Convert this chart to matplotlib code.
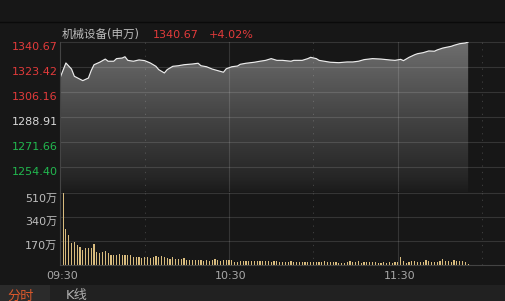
import numpy as np
import matplotlib
matplotlib.use("Agg")
import matplotlib.pyplot as plt
from matplotlib.patches import Polygon, Rectangle
from matplotlib.lines import Line2D
from matplotlib.colors import LinearSegmentedColormap

plt.rcParams['font.family'] = ['DejaVu Sans', 'Noto Sans CJK SC']

# ---------------- data ----------------
title_name = "机械设备(申万)"
last_price = "1340.67"
change_pct = "+4.02%"

price_ticks = [1340.67, 1323.42, 1306.16, 1288.91, 1271.66, 1254.40]
price_tick_labels = ["1340.67", "1323.42", "1306.16", "1288.91", "1271.66", "1254.40"]
price_tick_colors = ["#e23b3b", "#e23b3b", "#e23b3b", "#d8d8d8", "#22b84f", "#22b84f"]
price_low, price_high = 1237.15, 1340.67

vol_ticks = [510, 340, 170]
vol_tick_labels = ["510万", "340万", "170万"]

time_ticks = [0, 60, 120]
time_tick_labels = ["09:30", "10:30", "11:30"]

price_minutes = [0, 2, 4, 5, 8, 10, 11, 12, 14, 16, 17, 19, 20, 22, 23, 24, 26, 28, 30,
                 32, 34, 35, 37, 38, 40, 42, 44, 47, 49, 50, 52, 54, 56, 58, 59, 61, 63,
                 64, 66, 69, 71, 73, 75, 77, 79, 82, 83, 86, 88, 89, 91, 92, 96, 99, 102,
                 104, 106, 108, 111, 114, 117, 119, 121, 122, 124, 126, 127, 129, 131,
                 133, 134, 136, 139, 140, 142, 144, 145]
price_values = [1316.3, 1326.2, 1322.0, 1317.0, 1314.0, 1315.8, 1321.0, 1325.0, 1326.7,
                1328.9, 1327.4, 1327.4, 1329.2, 1329.6, 1330.5, 1328.0, 1327.4, 1328.3,
                1327.8, 1326.2, 1323.9, 1321.6, 1319.3, 1321.6, 1323.9, 1324.3, 1325.0,
                1325.5, 1326.0, 1324.3, 1323.6, 1322.0, 1320.9, 1319.8, 1322.2, 1323.6,
                1324.1, 1325.3, 1326.0, 1326.7, 1327.4, 1328.0, 1329.2, 1328.0, 1328.0,
                1327.4, 1328.0, 1328.0, 1329.2, 1330.1, 1329.2, 1328.0, 1326.7, 1326.4,
                1326.9, 1326.9, 1327.4, 1328.5, 1329.2, 1328.9, 1328.3, 1328.0, 1328.7,
                1327.8, 1330.1, 1331.9, 1332.6, 1333.3, 1334.5, 1334.3, 1335.2, 1336.5,
                1337.7, 1338.4, 1339.5, 1340.0, 1340.67]

volume = [165, 515, 255, 212, 154, 163, 142, 127, 109, 120, 120, 120, 149, 92, 85, 92,
          99, 85, 71, 71, 73, 78, 71, 71, 71, 71, 57, 57, 57, 52, 57, 57, 52, 59, 66, 59,
          64, 57, 50, 42, 57, 42, 42, 42, 50, 33, 35, 35, 35, 35, 35, 28,
          35, 28, 35, 41, 35, 28, 35, 35, 35, 35, 21, 21, 28, 28, 28, 28, 28, 28, 28, 28,
          28, 28, 28, 21, 28, 28, 21, 21, 21, 21, 28, 21, 21, 21, 21, 21, 21, 21, 21, 21,
          21, 21, 28, 21, 21, 21,
          21, 14, 14, 14, 21, 28, 21, 21, 28, 14, 21, 21, 21, 21, 21, 14, 14, 21, 14, 21,
          14, 21, 21, 55, 28, 14, 21, 28, 28, 21, 21, 21, 35, 28, 21, 21, 21, 28, 41, 28,
          28, 21, 35, 28, 28, 28, 21, 7]
vol_minutes = list(range(len(volume)))

# ---------------- layout ----------------
W, H = 505, 301
BG = "#171717"
fig = plt.figure(figsize=(W / 100, H / 100), dpi=100, facecolor=BG)

def fx(x):
    return x / W

def fy(y):
    return 1 - y / H

XMIN, XMAX = -0.1, 158.1
GRID = (1, 1, 1, 0.13)

ax = fig.add_axes([fx(60), fy(192), fx(505) - fx(60), fy(42) - fy(192)])
ax2 = fig.add_axes([fx(60), fy(265), fx(505) - fx(60), fy(193) - fy(265)])
for a in (ax, ax2):
    a.set_facecolor(BG)
    a.set_xlim(XMIN, XMAX)
    for s in a.spines.values():
        s.set_visible(False)
    a.set_xticks([])
    a.set_yticks([])

ax.set_ylim(price_low, price_high)
ax2.set_ylim(0, 510)

# gradient fill under price line
verts = [(price_minutes[0], price_low)] + list(zip(price_minutes, price_values)) + \
        [(price_minutes[-1], price_low)]
poly = Polygon(verts, closed=True, facecolor='none', edgecolor='none')
ax.add_patch(poly)
cmap = LinearSegmentedColormap.from_list(
    'g', [(0.0, '#1b1b1b'), (0.1, '#262626'), (0.55, '#484848'), (1.0, '#6e6e6e')])
grad = np.linspace(1, 0, 256).reshape(-1, 1)
im = ax.imshow(grad, extent=[XMIN, XMAX, price_low, price_high], aspect='auto',
               cmap=cmap, origin='upper', zorder=1, interpolation='bilinear')
im.set_clip_path(poly)
ax.plot(price_minutes, price_values, color='#ececec', lw=0.85, zorder=3)

# horizontal grid
for v in price_ticks:
    ax.axhline(v, color=GRID, lw=0.8, zorder=2, clip_on=False)
for v in vol_ticks:
    ax2.axhline(v, color=GRID, lw=0.8, zorder=2, clip_on=False)

# vertical grid
for a in (ax, ax2):
    for m in (60, 120):
        a.axvline(m, color=GRID, lw=0.8, zorder=2)
    for m in (30, 90, 150):
        a.axvline(m, color=(1, 1, 1, 0.16), lw=0.75, ls=(0, (1.2, 5)), zorder=2)

# volume bars
ax2.bar(vol_minutes, volume, width=0.42, color='#d8bb7e', linewidth=0, zorder=3)

# frame lines
fig.add_artist(Line2D([fx(60), fx(60)], [fy(42), fy(265)], color='#444444', lw=0.8))
fig.add_artist(Line2D([fx(60), 1], [fy(265), fy(265)], color='#444444', lw=0.8))
fig.add_artist(Line2D([0, 1], [fy(22), fy(22)], color='#0a0a0a', lw=1.0))

# tab bar
fig.add_artist(Rectangle((0, 0), 1, fy(285), transform=fig.transFigure,
                         facecolor='#212121', edgecolor='none'))
fig.add_artist(Rectangle((0, 0), fx(50), fy(285), transform=fig.transFigure,
                         facecolor='#2b2b2b', edgecolor='none'))
fig.text(fx(21), fy(299.5), "分时", color='#d9582b', fontsize=9.5, ha='center', va='baseline')
fig.text(fx(77), fy(299.5), "K线", color='#b0b0b0', fontsize=9.5, ha='center', va='baseline')

# title
FS = 8.0
fig.text(fx(62), fy(37.5), title_name, color='#bdbdbd', fontsize=8.3, va='baseline')
fig.text(fx(153), fy(37.5), last_price, color='#e23b3b', fontsize=FS, va='baseline')
fig.text(fx(209), fy(37.5), change_pct, color='#e23b3b', fontsize=FS, va='baseline')

# price tick labels
for i, (lab, col) in enumerate(zip(price_tick_labels, price_tick_colors)):
    y = 42 + 25 * i + 8
    fig.text(fx(57.5), fy(y), lab, color=col, fontsize=FS, ha='right', va='baseline')

# volume tick labels
for lab, yb in zip(vol_tick_labels, [201.5, 225, 248.5]):
    fig.text(fx(57.5), fy(yb), lab, color='#bdbdbd', fontsize=FS, ha='right', va='baseline')

# time labels
for m, lab in zip(time_ticks, time_tick_labels):
    x = 60 + m * 2.8133 + 2.3
    fig.text(fx(x), fy(279), lab, color='#a8a8a8', fontsize=FS, ha='center', va='baseline')

fig.savefig("out.png", dpi=100, facecolor=BG)
